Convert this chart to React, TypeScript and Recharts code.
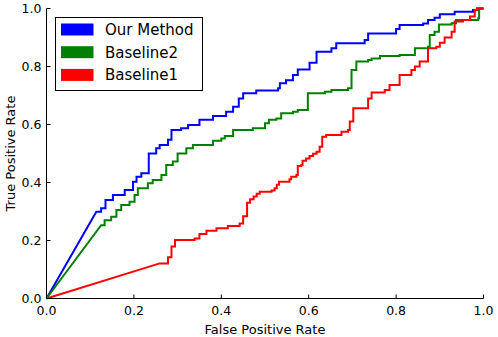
import React from 'react';
import { LineChart, Line, XAxis, YAxis, Legend } from 'recharts';

const tickValues = [0, 0.2, 0.4, 0.6, 0.8, 1.0];
const tickLabels = ['0.0', '0.2', '0.4', '0.6', '0.8', '1.0'];
const seriesNames = ['Our Method', 'Baseline2', 'Baseline1'];
const seriesColors = ['#0000ff', '#008000', '#ff0000'];

const oursFpr = [0, 0.114, 0.125, 0.135, 0.152, 0.179, 0.198, 0.206, 0.217, 0.234, 0.251, 0.259, 0.278, 0.286, 0.308, 0.324, 0.35, 0.381, 0.411, 0.427, 0.44, 0.45, 0.48, 0.53, 0.534, 0.548, 0.564, 0.575, 0.602, 0.618, 0.652, 0.663, 0.728, 0.736, 0.8, 0.808, 0.862, 0.873, 0.888, 0.9, 0.934, 0.976, 0.985, 1];
const oursTpr = [0, 0.299, 0.311, 0.34, 0.357, 0.374, 0.403, 0.42, 0.432, 0.5, 0.518, 0.529, 0.547, 0.581, 0.587, 0.598, 0.616, 0.629, 0.644, 0.661, 0.69, 0.708, 0.717, 0.725, 0.742, 0.753, 0.771, 0.79, 0.813, 0.851, 0.863, 0.88, 0.891, 0.914, 0.929, 0.943, 0.948, 0.96, 0.968, 0.98, 0.989, 0.995, 1.0, 1.0];

const base2Fpr = [0, 0.125, 0.133, 0.148, 0.16, 0.171, 0.19, 0.2015, 0.209, 0.232, 0.243, 0.263, 0.274, 0.289, 0.3, 0.32, 0.335, 0.381, 0.4, 0.408, 0.427, 0.472, 0.5, 0.509, 0.526, 0.537, 0.564, 0.575, 0.598, 0.637, 0.652, 0.69, 0.698, 0.709, 0.736, 0.744, 0.763, 0.808, 0.843, 0.873, 0.877, 0.888, 0.898, 0.927, 0.937, 0.988, 0.99, 1];
const base2Tpr = [0, 0.253, 0.27, 0.282, 0.305, 0.322, 0.334, 0.357, 0.38, 0.397, 0.409, 0.426, 0.46, 0.472, 0.5, 0.518, 0.529, 0.544, 0.552, 0.56, 0.581, 0.587, 0.604, 0.616, 0.621, 0.639, 0.644, 0.65, 0.708, 0.713, 0.719, 0.725, 0.788, 0.817, 0.822, 0.828, 0.836, 0.84, 0.863, 0.868, 0.909, 0.92, 0.945, 0.949, 0.96, 0.966, 1.0, 1.0];

const base1Fpr = [0, 0.259, 0.278, 0.286, 0.294, 0.339, 0.35, 0.366, 0.389, 0.415, 0.442, 0.45, 0.459, 0.466, 0.474, 0.481, 0.488, 0.515, 0.522, 0.527, 0.532, 0.556, 0.56, 0.572, 0.575, 0.583, 0.586, 0.594, 0.602, 0.61, 0.618, 0.625, 0.631, 0.64, 0.675, 0.69, 0.694, 0.702, 0.736, 0.744, 0.774, 0.785, 0.808, 0.835, 0.843, 0.854, 0.873, 0.892, 0.9, 0.911, 0.927, 0.934, 0.953, 0.969, 0.98, 0.985, 1];
const base1Tpr = [0, 0.121, 0.142, 0.179, 0.202, 0.207, 0.222, 0.234, 0.242, 0.25, 0.259, 0.284, 0.33, 0.342, 0.352, 0.361, 0.368, 0.372, 0.38, 0.392, 0.403, 0.411, 0.42, 0.426, 0.457, 0.46, 0.475, 0.483, 0.491, 0.499, 0.506, 0.523, 0.558, 0.564, 0.575, 0.581, 0.61, 0.656, 0.69, 0.71, 0.719, 0.736, 0.771, 0.788, 0.8, 0.817, 0.863, 0.868, 0.882, 0.9, 0.92, 0.955, 0.96, 0.972, 0.995, 1.0, 1.0];

// ROC staircase: first segment straight, then horizontal-then-vertical steps
function staircase(fpr: number[], tpr: number[]) {
  const pts: { x: number; y: number }[] = [
    { x: fpr[0], y: tpr[0] },
    { x: fpr[1], y: tpr[1] },
  ];
  for (let i = 2; i < fpr.length; i++) {
    pts.push({ x: fpr[i], y: tpr[i - 1] });
    pts.push({ x: fpr[i], y: tpr[i] });
  }
  return pts;
}

const seriesData = [
  staircase(oursFpr, oursTpr),
  staircase(base2Fpr, base2Tpr),
  staircase(base1Fpr, base1Tpr),
];

const FONT = 'DejaVu Sans, Bitstream Vera Sans, sans-serif';
const TICK_LEN = 4;
const TICK_FS = 12.5;
const LABEL_FS = 13;

const fmt = (v: number) => tickLabels[tickValues.findIndex((t) => Math.abs(t - v) < 1e-6)] ?? String(v);

const BottomTick = (p: any) => (
  <g>
    <line x1={p.x} y1={p.y} x2={p.x} y2={p.y - TICK_LEN} stroke="#000" strokeWidth={1} />
    <text x={p.x} y={p.y + 16.5} textAnchor="middle" fontSize={TICK_FS} fontFamily={FONT} fill="#000">
      {fmt(p.payload.value)}
    </text>
  </g>
);
const LeftTick = (p: any) => (
  <g>
    <line x1={p.x} y1={p.y} x2={p.x + TICK_LEN} y2={p.y} stroke="#000" strokeWidth={1} />
    <text x={p.x - 5} y={p.y + 4.5} textAnchor="end" fontSize={TICK_FS} fontFamily={FONT} fill="#000">
      {fmt(p.payload.value)}
    </text>
  </g>
);
const TopTick = (p: any) => (
  <line x1={p.x} y1={p.y} x2={p.x} y2={p.y + TICK_LEN} stroke="#000" strokeWidth={1} />
);
const RightTick = (p: any) => (
  <line x1={p.x} y1={p.y} x2={p.x - TICK_LEN} y2={p.y} stroke="#000" strokeWidth={1} />
);

const LegendBox = () => (
  <svg width={148} height={74} style={{ display: 'block' }}>
    <rect x={0.5} y={0.5} width={147} height={73} fill="#fff" stroke="#000" strokeWidth={1} />
    {seriesNames.map((n, i) => (
      <g key={n}>
        <rect x={6} y={6.5 + i * 22.7} width={32.5} height={12} fill={seriesColors[i]} />
        <text x={50} y={18 + i * 22.7} fontSize={15} fontFamily={FONT} fill="#000">
          {n}
        </text>
      </g>
    ))}
  </svg>
);

export default function App() {
  return (
    <div style={{ position: 'absolute', left: 0, top: 0, width: 498, height: 337, background: '#fff' }}>
      <LineChart width={498} height={337} margin={{ top: 8.5, right: 14.5, left: 0, bottom: 0 }}>
        <XAxis
          xAxisId="b"
          type="number"
          dataKey="x"
          domain={[0, 1]}
          ticks={tickValues}
          orientation="bottom"
          height={38.5}
          tickSize={0}
          tickMargin={0}
          tickLine={false}
          axisLine={{ stroke: '#000', strokeWidth: 1 }}
          tick={<BottomTick />}
          interval={0}
          label={{ value: 'False Positive Rate', position: 'insideBottom', offset: 3, fontSize: LABEL_FS, fontFamily: FONT, fill: '#000' }}
        />
        <XAxis
          xAxisId="t"
          type="number"
          dataKey="x"
          domain={[0, 1]}
          ticks={tickValues}
          orientation="top"
          height={0}
          tickSize={0}
          tickMargin={0}
          tickLine={false}
          axisLine={{ stroke: '#000', strokeWidth: 1 }}
          tick={<TopTick />}
          interval={0}
        />
        <YAxis
          yAxisId="l"
          type="number"
          dataKey="y"
          domain={[0, 1]}
          ticks={tickValues}
          orientation="left"
          width={46.5}
          tickSize={0}
          tickMargin={0}
          tickLine={false}
          axisLine={{ stroke: '#000', strokeWidth: 1 }}
          tick={<LeftTick />}
          interval={0}
          label={{ value: 'True Positive Rate', angle: -90, position: 'insideLeft', offset: 10, fontSize: LABEL_FS, fontFamily: FONT, fill: '#000', style: { textAnchor: 'middle' } }}
        />
        <YAxis
          yAxisId="r"
          type="number"
          dataKey="y"
          domain={[0, 1]}
          ticks={tickValues}
          orientation="right"
          width={0}
          tickSize={0}
          tickMargin={0}
          tickLine={false}
          axisLine={{ stroke: '#000', strokeWidth: 1 }}
          tick={<RightTick />}
          interval={0}
        />
        {seriesNames.map((n, i) => (
          <Line
            key={n}
            name={n}
            data={seriesData[i]}
            xAxisId="b"
            yAxisId="l"
            dataKey="y"
            type="linear"
            stroke={seriesColors[i]}
            strokeWidth={2}
            dot={false}
            activeDot={false}
            isAnimationActive={false}
          />
        ))}
        <Legend
          layout="vertical"
          align="center"
          verticalAlign="middle"
          content={() => <LegendBox />}
          wrapperStyle={{ position: 'absolute', left: 55, top: 16.5, width: 148, height: 74, margin: 0, padding: 0 }}
        />
      </LineChart>
    </div>
  );
}
